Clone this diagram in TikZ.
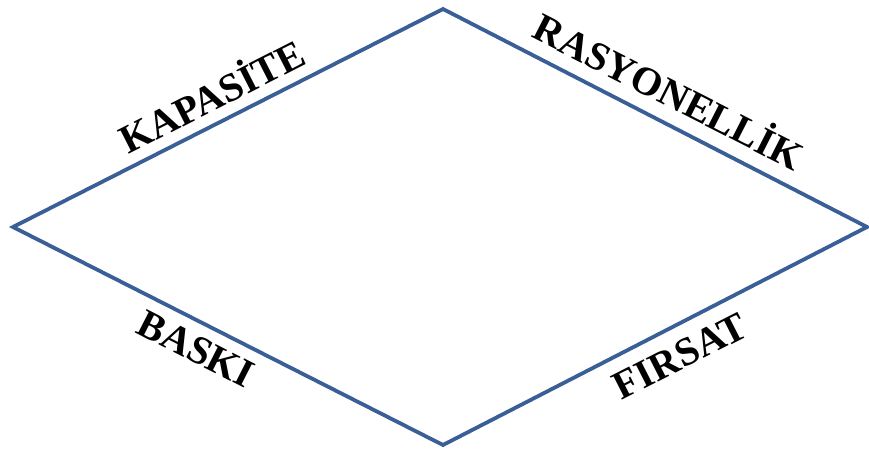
\documentclass[tikz,border=0pt]{standalone}
\usepackage{fontspec}
\setmainfont{Liberation Serif}
\definecolor{edgeblue}{RGB}{58,95,150}
\begin{document}
\begin{tikzpicture}[x=1pt,y=-1pt,
  edge/.style={draw=edgeblue,line width=3.8pt,line join=miter},
  lbl/.style={font=\bfseries\fontsize{40}{40}\selectfont,inner sep=0pt}]
\useasboundingbox (0,0) rectangle (869,452);
% corners of the rhombus
\coordinate (top) at (443,9);
\coordinate (left) at (13,227);
\coordinate (right) at (867,227);
\coordinate (bottom) at (443,445);
\draw[edge] (top) -- (right) -- (bottom) -- (left) -- cycle;
% side labels
\node[lbl,rotate=27]  (kap) at (211,94)  {KAPASİTE};
\node[lbl,rotate=-27] (ras) at (670,89)  {RASYONELLİK};
\node[lbl,rotate=-27] (bas) at (196,349) {BASKI};
\node[lbl,rotate=27]  (fir) at (680,356) {FIRSAT};
\end{tikzpicture}
\end{document}
